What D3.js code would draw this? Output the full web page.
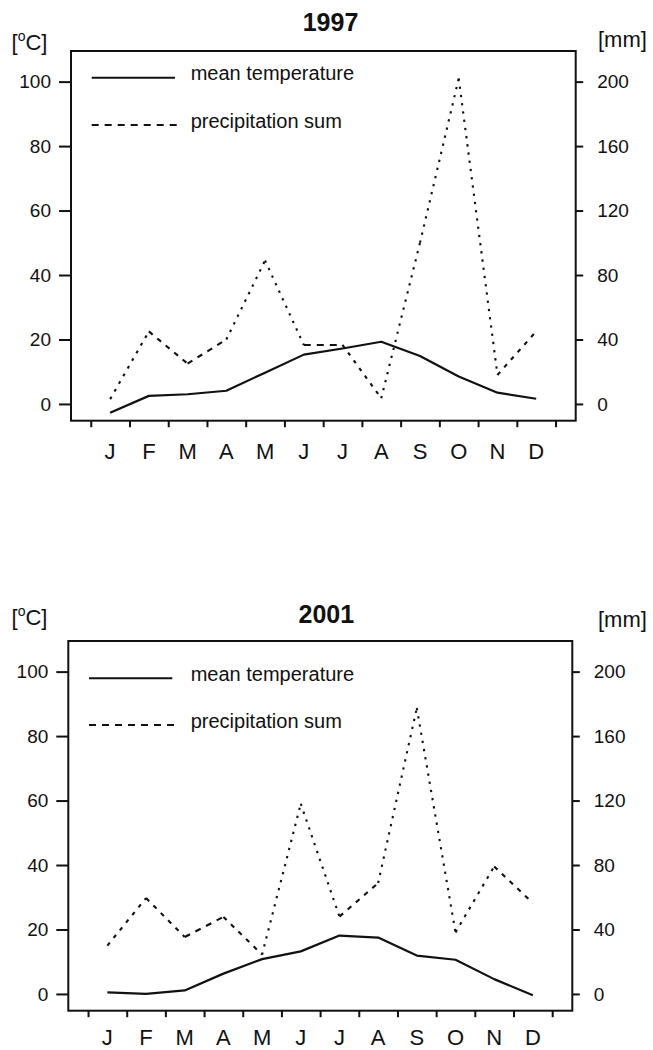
<!DOCTYPE html>
<html><head><meta charset="utf-8">
<script src="https://cdn.jsdelivr.net/npm/d3@7"></script>
<style>body{margin:0;background:#fff}</style>
</head><body>
<svg id="c" width="653" height="1050"></svg>
<script>
const months = ["J","F","M","A","M","J","J","A","S","O","N","D"];
const tempTicks = [0,20,40,60,80,100];
const precTicks = [0,40,80,120,160,200];
const legendLabels = ["mean temperature","precipitation sum"];
const temp1997 = [-2.7,2.5,3.0,4.1,9.7,15.3,17.2,19.3,14.9,8.5,3.5,1.6];
const prec1997 = [3,45,25,40,89,36.6,36.6,3.5,100,202,18,45];
const temp2001 = [0.5,0,1.1,6.3,10.8,13.2,18.1,17.5,11.9,10.6,4.6,-0.4];
const prec2001 = [30,59.5,35.3,47.8,24.4,118,48,68.8,177.4,38.2,79.1,56.4];

const FONT = "'Liberation Sans', Arial, Helvetica, sans-serif";
const svg = d3.select("#c");

const panels = [
  {title:"1997", temp:temp1997, prec:prec1997, x0:71, x1:575.7, y0:51, y1:420.7,
   titleX:330.5, titleY:31, unitY:50, mmY:46.7, leg1:77.7, leg2:125, monY:458.5},
  {title:"2001", temp:temp2001, prec:prec2001, x0:68.3, x1:572.3, y0:641, y1:1010.7,
   titleX:326.3, titleY:623.3, unitY:625, mmY:626.7, leg1:678.3, leg2:725, monY:1045}
];

panels.forEach(p => {
  const g = svg.append("g");
  const x = d3.scaleLinear().domain([-1.01, 12.02]).range([p.x0, p.x1]);
  const y = d3.scaleLinear().domain([-5.2, 109.5]).range([p.y1, p.y0]);
  const yR = d3.scaleLinear().domain([-10.4, 219]).range([p.y1, p.y0]);

  // box
  g.append("rect").attr("x", p.x0).attr("y", p.y0)
    .attr("width", p.x1 - p.x0).attr("height", p.y1 - p.y0)
    .attr("fill", "none").attr("stroke", "#111").attr("stroke-width", 2);

  // left axis
  const la = g.append("g").attr("transform", `translate(${p.x0},0)`)
    .call(d3.axisLeft(y).tickValues(tempTicks).tickSize(12).tickPadding(8));
  la.select(".domain").remove();
  la.selectAll("line").attr("stroke", "#111").attr("stroke-width", 2);
  la.selectAll("text").attr("font-family", FONT).attr("font-size", 19).attr("fill", "#111");

  // right axis
  const ra = g.append("g").attr("transform", `translate(${p.x1},0)`)
    .call(d3.axisRight(yR).tickValues(precTicks).tickSize(7.5).tickPadding(14));
  ra.select(".domain").remove();
  ra.selectAll("line").attr("stroke", "#111").attr("stroke-width", 2);
  ra.selectAll("text").attr("font-family", FONT).attr("font-size", 19).attr("fill", "#111");

  // bottom axis ticks
  const ba = g.append("g").attr("transform", `translate(0,${p.y1})`)
    .call(d3.axisBottom(x).tickValues(d3.range(13).map(i => i - 0.5)).tickSize(6.5).tickFormat(""));
  ba.select(".domain").remove();
  ba.selectAll("line").attr("stroke", "#111").attr("stroke-width", 2);

  // month labels
  g.selectAll(".m").data(months).enter().append("text")
    .attr("x", (d, i) => x(i)).attr("y", p.monY)
    .attr("text-anchor", "middle").attr("font-family", FONT)
    .attr("font-size", 22).attr("fill", "#111").text(d => d);

  // title
  g.append("text").attr("x", p.titleX).attr("y", p.titleY)
    .attr("text-anchor", "middle").attr("font-family", FONT)
    .attr("font-weight", "bold").attr("font-size", 25).attr("fill", "#111").text(p.title);

  // units
  const u = g.append("text").attr("x", 11.5).attr("y", p.unitY)
    .attr("font-family", FONT).attr("font-size", 22).attr("fill", "#111");
  u.append("tspan").text("[");
  u.append("tspan").attr("font-size", 14).attr("dy", -9).text("o");
  u.append("tspan").attr("dy", 9).text("C]");
  g.append("text").attr("x", 598).attr("y", p.mmY)
    .attr("font-family", FONT).attr("font-size", 22).attr("fill", "#111").text("[mm]");

  // temperature line
  const lineT = d3.line().x((d, i) => x(i)).y(d => y(d));
  g.append("path").attr("d", lineT(p.temp)).attr("fill", "none")
    .attr("stroke", "#111").attr("stroke-width", 2.2).attr("stroke-linejoin", "round");

  // precipitation line: per segment dashing (dashes shrink to dots on steep parts)
  const pts = p.prec.map((v, i) => [x(i), yR(v)]);
  for (let i = 0; i < pts.length - 1; i++) {
    const a = pts[i], b = pts[i + 1];
    const dx = b[0] - a[0], dy = b[1] - a[1];
    const cos = Math.abs(dx) / Math.hypot(dx, dy);
    const dash = Math.max(2.3, 7 * Math.pow(cos, 1.3));
    g.append("path").attr("d", d3.line()([a, b])).attr("fill", "none")
      .attr("stroke", "#111").attr("stroke-width", 2.1)
      .attr("stroke-dasharray", `${dash.toFixed(2)},6`);
  }

  // legend
  g.append("line").attr("x1", p.x0 + 20.7).attr("x2", p.x0 + 104).attr("y1", p.leg1).attr("y2", p.leg1)
    .attr("stroke", "#111").attr("stroke-width", 2);
  g.append("line").attr("x1", p.x0 + 20.7).attr("x2", p.x0 + 106).attr("y1", p.leg2).attr("y2", p.leg2)
    .attr("stroke", "#111").attr("stroke-width", 2).attr("stroke-dasharray", "7,6");
  g.append("text").attr("x", 190.7).attr("y", p.leg1 + 2.5).attr("font-family", FONT)
    .attr("font-size", 20).attr("fill", "#111").text(legendLabels[0]);
  g.append("text").attr("x", 190.7).attr("y", p.leg2 + 2.5).attr("font-family", FONT)
    .attr("font-size", 20).attr("fill", "#111").text(legendLabels[1]);
});
</script>
</body></html>
